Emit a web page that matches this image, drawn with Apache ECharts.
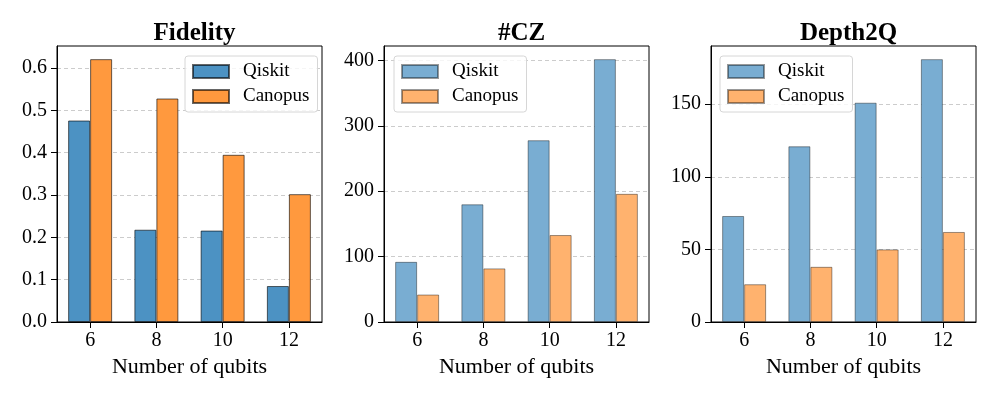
<!DOCTYPE html>
<html>
<head>
<meta charset="utf-8">
<script src="https://cdn.jsdelivr.net/npm/echarts@6/dist/echarts.min.js"></script>
<style>
html, body { margin: 0; padding: 0; background: #fff; }
#chart { width: 997px; height: 399px; }
</style>
</head>
<body>
<div id="chart"></div>
<script>
// qubit counts on the x axis
const categories = ['6', '8', '10', '12']

// panel titles
const panelTitles = ['Fidelity', '#CZ', 'Depth2Q']

// values per panel
const fidelityQiskit = [0.476, 0.218, 0.216, 0.085]
const fidelityCanopus = [0.621, 0.528, 0.395, 0.302]
const czQiskit = [92, 180, 278, 402]
const czCanopus = [42, 82, 133, 196]
const depthQiskit = [73, 121, 151, 181]
const depthCanopus = [26, 38, 50, 62]

// y tick step per panel
const yIntervals = [0.1, 100, 50]

const panels = [
	{ qiskit: fidelityQiskit, canopus: fidelityCanopus, alpha: 0.8 },
	{ qiskit: czQiskit, canopus: czCanopus, alpha: 0.6 },
	{ qiskit: depthQiskit, canopus: depthCanopus, alpha: 0.6 },
]

const FONT = '"Liberation Serif", "Times New Roman", serif'
const gridLefts = [57, 384, 711]
const gridWidth = 265
const legendLefts = [185, 394, 720]

function tint(rgb, a) {
	const c = rgb.map(v => Math.round(v * a + 255 * (1 - a)))
	return `rgb(${c[0]},${c[1]},${c[2]})`
}
const BLUE = [31, 119, 180]
const ORANGE = [255, 127, 14]

const option = {
	animation: false,
	backgroundColor: '#fff',
	title: [],
	grid: [],
	xAxis: [],
	yAxis: [],
	legend: [],
	series: [],
}

panels.forEach((p, i) => {
	const edge = `rgba(0,0,0,${p.alpha - 0.2})`
	option.title.push({
		text: panelTitles[i],
		left: gridLefts[i] + gridWidth / 2,
		textAlign: 'center',
		top: 16,
		textStyle: { fontFamily: FONT, fontSize: 25, fontWeight: 'bold', color: '#000' },
	})
	option.grid.push({
		left: gridLefts[i],
		top: 46,
		width: gridWidth,
		height: 276,
		show: true,
		borderColor: '#000',
		borderWidth: 1,
		backgroundColor: 'transparent',
	})
	option.xAxis.push({
		type: 'category',
		gridIndex: i,
		data: categories,
		name: 'Number of qubits',
		nameLocation: 'middle',
		nameGap: 33,
		nameTextStyle: { fontFamily: FONT, fontSize: 22, color: '#000' },
		axisLine: { show: true, lineStyle: { color: '#000', width: 1 } },
		axisTick: { show: true, alignWithLabel: true, length: 6, lineStyle: { color: '#000' } },
		axisLabel: { fontFamily: FONT, fontSize: 20, color: '#000', margin: 9 },
		splitLine: { show: false },
	})
	option.yAxis.push({
		type: 'value',
		gridIndex: i,
		min: 0,
		max: v => v.max * 1.05,
		interval: yIntervals[i],
		axisLine: { show: true, lineStyle: { color: '#000', width: 1 } },
		axisTick: { show: true, length: 6, lineStyle: { color: '#000' } },
		axisLabel: {
			fontFamily: FONT, fontSize: 20, color: '#000', margin: 10, showMaxLabel: false,
			formatter: v => (i === 0 ? v.toFixed(1) : String(v)),
		},
		splitLine: {
			show: true, showMinLine: false, showMaxLine: false,
			lineStyle: { color: '#cccccc', type: [4, 3], width: 1 },
		},
	})
	const qName = 'Qiskit-' + i
	const cName = 'Canopus-' + i
	option.legend.push({
		data: [qName, cName],
		orient: 'vertical',
		left: legendLefts[i],
		top: 56,
		icon: 'rect',
		itemWidth: 36,
		itemHeight: 13,
		itemGap: 6,
		selectedMode: false,
		padding: [6, 8, 6, 7],
		backgroundColor: 'rgba(255,255,255,0.8)',
		borderColor: '#d6d6d6',
		borderWidth: 1,
		borderRadius: 3,
		formatter: n => n.split('-')[0],
		textStyle: { fontFamily: FONT, fontSize: 19, color: '#000', lineHeight: 19, padding: [0, 0, 0, 9] },
	})
	option.series.push({
		name: qName,
		type: 'bar',
		xAxisIndex: i,
		yAxisIndex: i,
		data: p.qiskit,
		barWidth: 22,
		barGap: '0%',
		itemStyle: { color: tint(BLUE, p.alpha), borderColor: edge, borderWidth: 1 },
	})
	option.series.push({
		name: cName,
		type: 'bar',
		xAxisIndex: i,
		yAxisIndex: i,
		data: p.canopus,
		barWidth: 22,
		barGap: '0%',
		itemStyle: { color: tint(ORANGE, p.alpha), borderColor: edge, borderWidth: 1 },
	})
})

const chart = echarts.init(document.getElementById('chart'), null, { renderer: 'canvas' })
chart.setOption(option)
</script>
</body>
</html>
